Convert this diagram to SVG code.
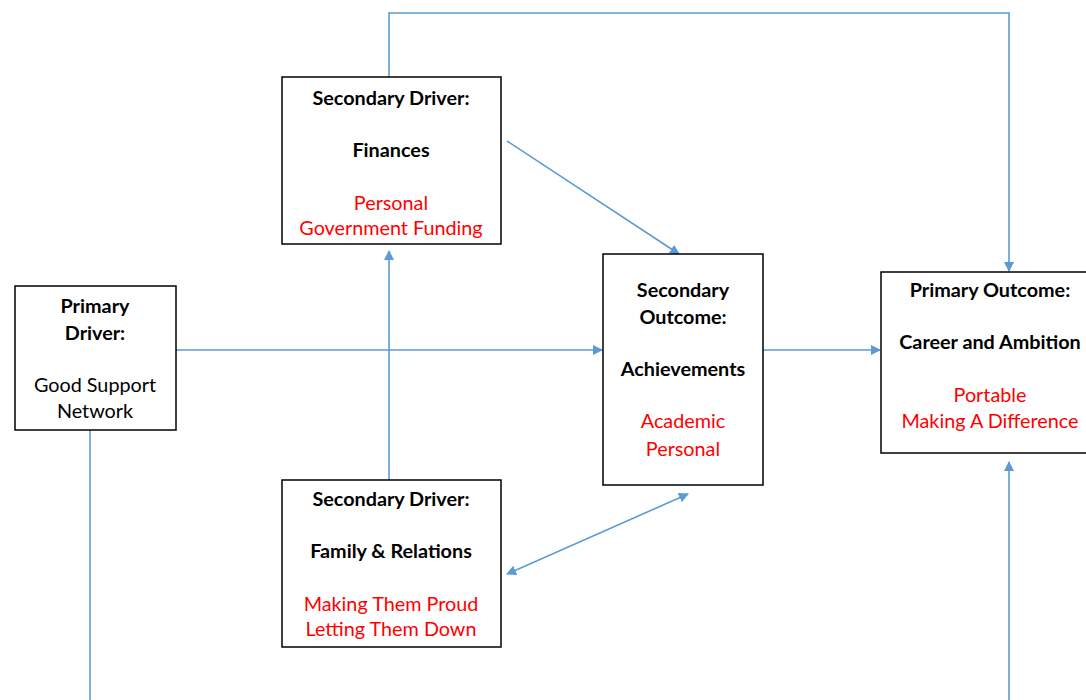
<svg xmlns="http://www.w3.org/2000/svg" width="1086" height="700" viewBox="0 0 1086 700">
  <style>
    .box { fill: #ffffff; stroke: #000000; stroke-width: 1.5; }
    .t { font-family: Lato, "Liberation Sans", sans-serif; font-size: 19.8px; text-anchor: middle; fill: #000000; }
    .b { font-weight: bold; }
    .r { fill: #ff0000; }
    .c { fill: none; stroke: #5b9bd5; stroke-width: 1.6; }
  </style>
  <defs>
    <marker id="arrow" viewBox="0 0 10 10" refX="9" refY="5" markerWidth="10" markerHeight="10" markerUnits="userSpaceOnUse" orient="auto-start-reverse">
      <path d="M0,0 L10,5 L0,10 z" fill="#5b9bd5"/>
    </marker>
  </defs>
  <rect width="1086" height="700" fill="#ffffff"/>

  <g id="connectors">
    <path class="c" d="M389,77 V13 H1009 V271" marker-end="url(#arrow)"/>
    <path class="c" d="M507,141 L679,254" marker-end="url(#arrow)"/>
    <path class="c" d="M176,350 H602" marker-end="url(#arrow)"/>
    <path class="c" d="M763,350 H880" marker-end="url(#arrow)"/>
    <path class="c" d="M389,480 V251" marker-end="url(#arrow)"/>
    <path class="c" d="M507,574 L688,494" marker-start="url(#arrow)" marker-end="url(#arrow)"/>
    <path class="c" d="M90,430 V700"/>
    <path class="c" d="M1009,700 V462" marker-end="url(#arrow)"/>
  </g>

  <g id="primary-driver">
    <rect class="box" x="15" y="286" width="161" height="144"/>
    <text class="t b" x="95" y="313">Primary</text>
    <text class="t b" x="95" y="340">Driver:</text>
    <text class="t" x="95" y="392">Good Support</text>
    <text class="t" x="95" y="418">Network</text>
  </g>

  <g id="secondary-driver-finances">
    <rect class="box" x="282" y="77" width="219" height="167"/>
    <text class="t b" x="391" y="105">Secondary Driver:</text>
    <text class="t b" x="391" y="157">Finances</text>
    <text class="t r" x="391" y="210">Personal</text>
    <text class="t r" x="391" y="235">Government Funding</text>
  </g>

  <g id="secondary-driver-family">
    <rect class="box" x="282" y="480" width="219" height="167"/>
    <text class="t b" x="391" y="506">Secondary Driver:</text>
    <text class="t b" x="391" y="558">Family &amp; Relations</text>
    <text class="t r" x="391" y="611">Making Them Proud</text>
    <text class="t r" x="391" y="636">Letting Them Down</text>
  </g>

  <g id="secondary-outcome">
    <rect class="box" x="603" y="254" width="160" height="231"/>
    <text class="t b" x="683" y="297">Secondary</text>
    <text class="t b" x="683" y="324">Outcome:</text>
    <text class="t b" x="683" y="376">Achievements</text>
    <text class="t r" x="683" y="428">Academic</text>
    <text class="t r" x="683" y="456">Personal</text>
  </g>

  <g id="primary-outcome">
    <rect class="box" x="881" y="272" width="210" height="181"/>
    <text class="t b" x="990" y="297">Primary Outcome:</text>
    <text class="t b" x="990" y="349">Career and Ambition</text>
    <text class="t r" x="990" y="402">Portable</text>
    <text class="t r" x="990" y="428">Making A Difference</text>
  </g>
</svg>
